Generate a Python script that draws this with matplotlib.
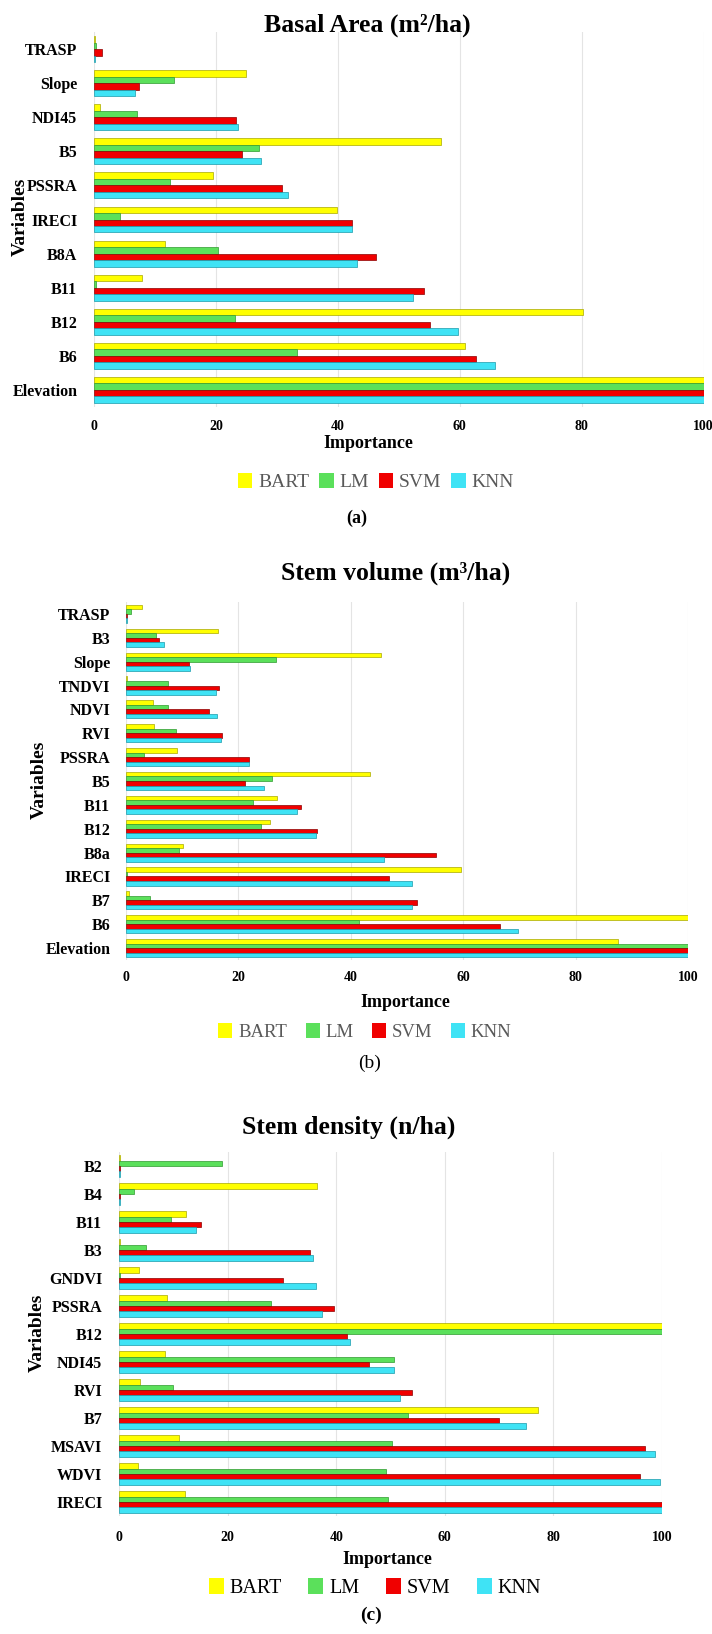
import matplotlib
matplotlib.use("Agg")
import matplotlib.pyplot as plt
from matplotlib.patches import Patch
import numpy as np

plt.rcParams['font.family'] = ['Liberation Serif', 'DejaVu Serif']

series = ["BART", "LM", "SVM", "KNN"]
colors = ["#FFFF00", "#5BE05B", "#F00000", "#3FE3F5"]
edges = ["#A8A800", "#2E9A2E", "#8A0000", "#1A9AAA"]

# (a) Basal Area
cats_a = ["TRASP", "Slope", "NDI45", "B5", "PSSRA", "IRECI", "B8A", "B11", "B12", "B6", "Elevation"]
bart_a = [0.15, 25.0, 1.0, 57.0, 19.5, 39.8, 11.6, 7.8, 80.2, 60.8, 100]
lm_a   = [0.3, 13.1, 7.0, 27.0, 12.5, 4.3, 20.4, 0.3, 23.1, 33.3, 100]
svm_a  = [1.3, 7.4, 23.3, 24.2, 30.9, 42.4, 46.2, 54.1, 55.1, 62.7, 100]
knn_a  = [0.15, 6.8, 23.7, 27.4, 31.8, 42.3, 43.1, 52.3, 59.7, 65.7, 100]

# (b) Stem volume
cats_b = ["TRASP", "B3", "Slope", "TNDVI", "NDVI", "RVI", "PSSRA", "B5", "B11", "B12", "B8a", "IRECI", "B7", "B6", "Elevation"]
bart_b = [2.9, 16.5, 45.5, 0.2, 4.8, 5.0, 9.1, 43.5, 27.0, 25.7, 10.2, 59.6, 0.7, 100, 87.6]
lm_b   = [0.9, 5.4, 26.7, 7.5, 7.6, 9.0, 3.2, 26.0, 22.6, 24.0, 9.5, 0.2, 4.4, 41.5, 100]
svm_b  = [0.3, 5.9, 11.2, 16.7, 14.9, 17.1, 22.0, 21.3, 31.2, 34.1, 55.2, 46.8, 51.9, 66.5, 100]
knn_b  = [0.2, 6.8, 11.5, 16.1, 16.2, 17.0, 22.0, 24.6, 30.5, 33.8, 46.0, 50.9, 50.9, 69.8, 100]

# (c) Stem density
cats_c = ["B2", "B4", "B11", "B3", "GNDVI", "PSSRA", "B12", "NDI45", "RVI", "B7", "MSAVI", "WDVI", "IRECI"]
bart_c = [0.1, 36.4, 12.4, 0.25, 3.7, 8.8, 100, 8.4, 3.9, 77.1, 11.0, 3.5, 12.2]
lm_c   = [19.0, 2.7, 9.5, 5.0, 0.1, 28.0, 100, 50.6, 9.9, 53.2, 50.3, 49.2, 49.5]
svm_c  = [0.1, 0.25, 15.1, 35.1, 30.2, 39.6, 42.0, 46.1, 54.0, 70.0, 96.9, 95.9, 100]
knn_c  = [0.1, 0.1, 14.1, 35.8, 36.3, 37.3, 42.6, 50.6, 51.7, 74.9, 98.8, 99.7, 100]

xticks = [0, 20, 40, 60, 80, 100]

W, H = 712, 1634
fig = plt.figure(figsize=(W / 100, H / 100), dpi=100)


def rect(left, right, top, bottom):
    return [left / W, 1 - bottom / H, (right - left) / W, (bottom - top) / H]


def ftext(x, y, s, **kw):
    fig.text(x / W, 1 - y / H, s, ha='center', va='center', **kw)


def panel(box, cats, vals, ypad, xpad):
    ax = fig.add_axes(rect(*box))
    n = len(cats)
    y = np.arange(n)
    h = 0.19
    for j, v in enumerate(vals):
        ax.barh(y + (j - 1.5) * h, v, height=h, color=colors[j],
                edgecolor=edges[j], linewidth=0.5, zorder=3)
    ax.set_xlim(0, 100)
    ax.set_ylim(n - 0.5, -0.5)
    ax.set_yticks(y)
    ax.set_yticklabels(cats, fontsize=11.5, fontweight='bold')
    ax.set_xticks(xticks)
    ax.set_xticklabels([str(t) for t in xticks], fontsize=10, fontweight='bold')
    ax.tick_params(axis='y', length=0, pad=ypad)
    ax.tick_params(axis='x', length=0, pad=xpad)
    for s in ax.spines.values():
        s.set_visible(False)
    ax.grid(axis='x', color='#E4E4E4', linewidth=0.8, zorder=0)
    ax.grid(axis='y', visible=False)
    return ax


def legend(x, y, fs, color, spacing):
    handles = [Patch(facecolor=c, edgecolor='none') for c in colors]
    fig.legend(handles, series, loc='center', bbox_to_anchor=(x / W, 1 - y / H),
               ncol=4, frameon=False, fontsize=fs, labelcolor=color,
               handlelength=0.75, handleheight=0.8, handletextpad=0.3,
               columnspacing=spacing, borderpad=0)


# Panel (a)
panel((94, 703.6, 32, 407), cats_a, [bart_a, lm_a, svm_a, knn_a], 12, 9)
ftext(367, 25, "Basal Area (m²/ha)", fontsize=18.5, fontweight='bold')
ftext(368, 443, "Importance", fontsize=13, fontweight='bold')
ftext(20, 217, "Variables", fontsize=14, fontweight='bold', rotation=90)
legend(376, 482, 14, '#595959', 0.5)
ftext(357, 518, "(a)", fontsize=13, fontweight='bold')

# Panel (b)
panel((125.5, 688, 602, 960), cats_b, [bart_b, lm_b, svm_b, knn_b], 11, 8)
ftext(396, 573, "Stem volume (m³/ha)", fontsize=18.5, fontweight='bold')
ftext(405, 1002, "Importance", fontsize=13, fontweight='bold')
ftext(39, 780, "Variables", fontsize=14, fontweight='bold', rotation=90)
legend(365, 1032, 13.5, '#595959', 1.0)
ftext(370, 1063, "(b)", fontsize=14)

# Panel (c)
panel((119, 662, 1152, 1516), cats_c, [bart_c, lm_c, svm_c, knn_c], 12, 11)
ftext(349, 1127, "Stem density (n/ha)", fontsize=18.5, fontweight='bold')
ftext(387, 1560, "Importance", fontsize=13, fontweight='bold')
ftext(37, 1333, "Variables", fontsize=14, fontweight='bold', rotation=90)
legend(375, 1588, 14.5, 'black', 1.3)
ftext(371, 1615, "(c)", fontsize=14, fontweight='bold')

fig.savefig("out.png", dpi=100)
